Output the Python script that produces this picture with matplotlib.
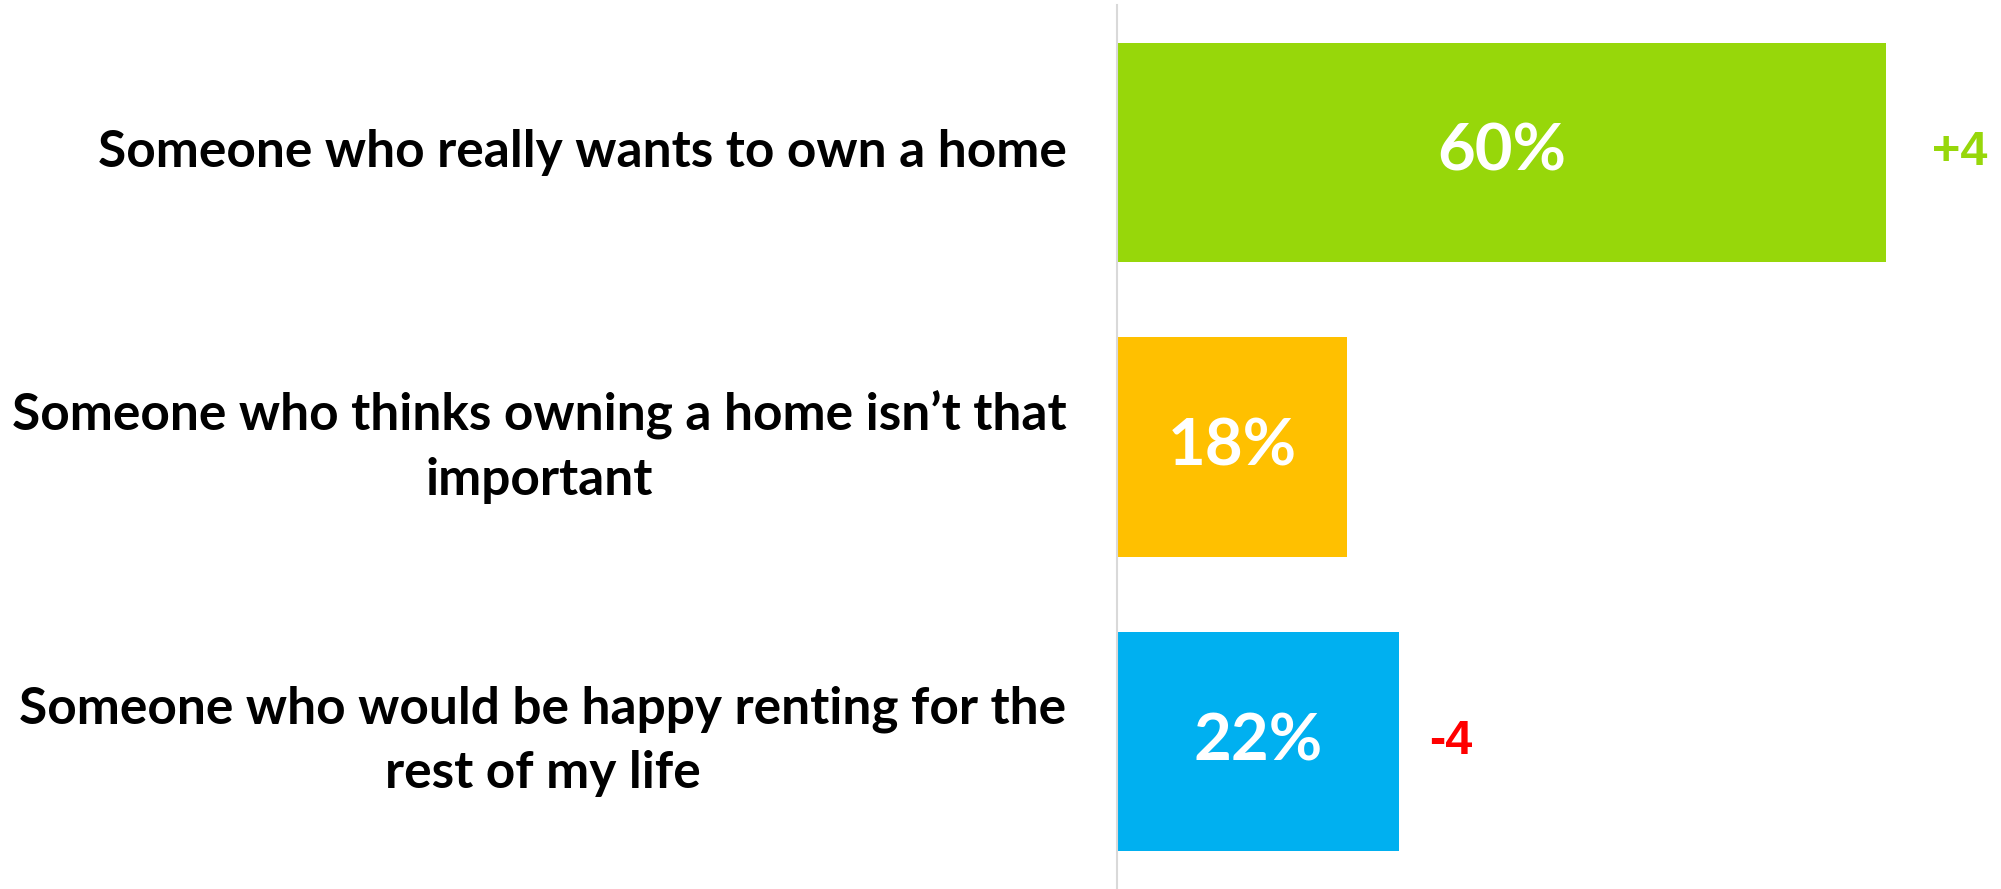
import matplotlib.pyplot as plt

#data
labels = ["Someone who really wants to own a home",
          "Someone who thinks owning a home isn\u2019t that\nimportant",
          "Someone who would be happy renting for the\nrest of my life"]
values = [60, 18, 22]
deltas = ["+4", "", "-4"]
bar_colors = ["#97D70A", "#FFC000", "#00B0F0"]
delta_colors = ["#97D70A", "#FF0000", "#FF0000"]
delta_gap = [46, 30, 30]  # pixels right of the bar end

plt.rcParams['font.family'] = ['Lato', 'DejaVu Sans']

fig = plt.figure(figsize=(20.01, 8.89), dpi=100)
ax = fig.add_axes([0.558, 0.0, 0.436, 0.9944])

pos = list(range(len(values)))
ax.barh(pos, values, height=0.745, color=bar_colors)
ax.set_xlim(0, 68)
ax.set_ylim(2.5, -0.5)

for i, v in enumerate(values):
    ax.text(v / 2, i, f"{v}%", ha='center', va='center', color='white',
            fontsize=47, fontweight='bold')
    if deltas[i]:
        ax.annotate(deltas[i], xy=(v, i), xytext=(delta_gap[i], 0), textcoords='offset pixels',
                    ha='left', va='center', color=delta_colors[i], fontsize=35,
                    fontweight='bold', family='Liberation Sans', annotation_clip=False)
    ax.annotate(labels[i], xy=(0, i), xytext=(-50, 0), textcoords='offset pixels',
                ha='right', va='center', multialignment='center', fontsize=37,
                fontweight='bold', color='black', annotation_clip=False,
                linespacing=1.45)

for s in ['top', 'right', 'bottom']:
    ax.spines[s].set_visible(False)
ax.spines['left'].set_color('#D9D9D9')
ax.spines['left'].set_linewidth(1.5)
ax.set_xticks([])
ax.set_yticks([])

fig.savefig("out.png", dpi=100)
